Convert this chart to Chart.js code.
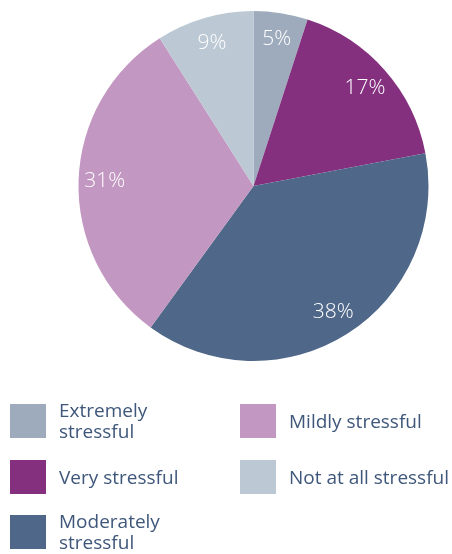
<!DOCTYPE html>
<html>
<head>
<meta charset="utf-8">
<script src="https://cdn.jsdelivr.net/npm/chart.js@4"></script>
<style>
  html, body { margin: 0; padding: 0; background: #fff; }
  #wrap { position: relative; width: 452px; height: 554px; overflow: hidden; }
  #chartBox { position: absolute; left: 0; top: 0; width: 452px; height: 372px; }
  #legend { position: absolute; left: 0; top: 0; width: 452px; height: 554px; pointer-events: none; }
  .item { position: absolute; display: flex; align-items: center; height: 34px; }
  .swatch { width: 36px; height: 34px; flex: none; }
  .text { margin-left: 13px; font-family: "Open Sans", sans-serif; font-weight: 400; font-size: 19px; line-height: 21px; color: #3e577a; white-space: nowrap; }
</style>
</head>
<body>
<div id="wrap">
  <div id="chartBox"><canvas id="stressPie"></canvas></div>
  <div id="legend"></div>
</div>
<script>
const categories = ['Extremely stressful', 'Very stressful', 'Moderately stressful', 'Mildly stressful', 'Not at all stressful'];
const legendText = ['Extremely<br>stressful', 'Very stressful', 'Moderately<br>stressful', 'Mildly stressful', 'Not at all stressful'];
const shares = [5, 17, 38, 31, 9];
const sliceColors = ['#9dabbd', '#84307f', '#4f6788', '#c297c1', '#bcc8d4'];

// legend grid: column-major, 3 rows on the left and 2 on the right
const legendSpots = [[10, 404], [10, 460], [10, 515], [240, 404], [240, 460]];

const legend = document.getElementById('legend');
categories.forEach((name, i) => {
  const el = document.createElement('div');
  el.className = 'item';
  el.style.left = legendSpots[i][0] + 'px';
  el.style.top = legendSpots[i][1] + 'px';
  el.innerHTML = '<div class="swatch" style="background:' + sliceColors[i] + '"></div><div class="text">' + legendText[i] + '</div>';
  legend.appendChild(el);
});

// percentage text written inside each slice, near the rim
const sliceLabels = {
  id: 'sliceLabels',
  afterDatasetsDraw(chart) {
    const ctx = chart.ctx;
    const meta = chart.getDatasetMeta(0);
    ctx.save();
    ctx.fillStyle = '#ffffff';
    ctx.font = '300 21px "Open Sans", sans-serif';
    ctx.textAlign = 'center';
    ctx.textBaseline = 'middle';
    meta.data.forEach((arc, i) => {
      const mid = (arc.startAngle + arc.endAngle) / 2;
      const r = arc.outerRadius * 0.85;
      ctx.fillText(shares[i] + '%', arc.x + Math.cos(mid) * r, arc.y + Math.sin(mid) * r);
    });
    ctx.restore();
  }
};

new Chart(document.getElementById('stressPie'), {
  type: 'pie',
  data: {
    labels: categories,
    datasets: [{
      data: shares,
      backgroundColor: sliceColors,
      borderWidth: 0
    }]
  },
  options: {
    responsive: true,
    maintainAspectRatio: false,
    animation: false,
    layout: { padding: { left: 78, right: 23, top: 11, bottom: 11 } },
    plugins: {
      legend: { display: false },
      tooltip: { enabled: false }
    }
  },
  plugins: [sliceLabels]
});
</script>
</body>
</html>
